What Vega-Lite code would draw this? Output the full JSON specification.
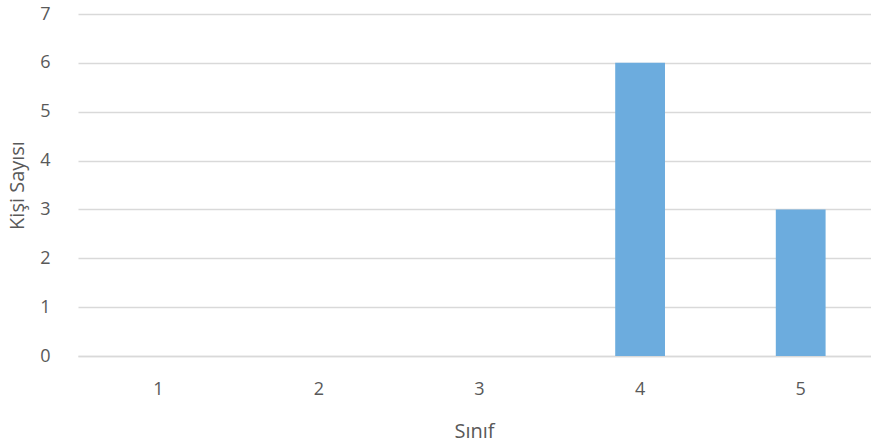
{
  "$schema": "https://vega.github.io/schema/vega-lite/v6.json",
  "autosize": "none",
  "padding": {"left": 78, "top": 14, "right": 0, "bottom": 90},
  "width": 803,
  "height": 342,
  "background": "white",
  "data": {"values": [
    {"Sınıf": "1", "Kişi Sayısı": 0},
    {"Sınıf": "2", "Kişi Sayısı": 0},
    {"Sınıf": "3", "Kişi Sayısı": 0},
    {"Sınıf": "4", "Kişi Sayısı": 6},
    {"Sınıf": "5", "Kişi Sayısı": 3}
  ]},
  "config": {
    "view": {"stroke": null}
  },
  "mark": {"type": "bar", "color": "#6CACDE"},
  "encoding": {
    "x": {
      "field": "Sınıf", "type": "nominal", "sort": null,
      "scale": {"paddingInner": 0.69, "paddingOuter": 0.345},
      "axis": {"labelAngle": 0, "ticks": false, "domain": true, "domainColor": "#d9d9d9", "domainWidth": 1.5, "labelPadding": 33, "titlePadding": 23, "grid": false,
        "labelColor": "#595959", "titleColor": "#595959", "labelFontSize": 18, "titleFontSize": 20, "titleFontWeight": "normal", "labelFont": "Open Sans", "titleFont": "Open Sans", "labelBaseline": "middle", "titleX": 396}
    },
    "y": {
      "field": "Kişi Sayısı", "type": "quantitative",
      "scale": {"domain": [0, 7]},
      "axis": {"values": [0,1,2,3,4,5,6,7], "labelOverlap": false, "ticks": false, "domain": false, "gridColor": "#d9d9d9", "gridWidth": 1.5, "labelPadding": 28, "titlePadding": 12,
        "labelColor": "#595959", "titleColor": "#595959", "labelFontSize": 18, "titleFontSize": 20, "titleFontWeight": "normal", "labelFont": "Open Sans", "titleFont": "Open Sans"}
    }
  }
}
